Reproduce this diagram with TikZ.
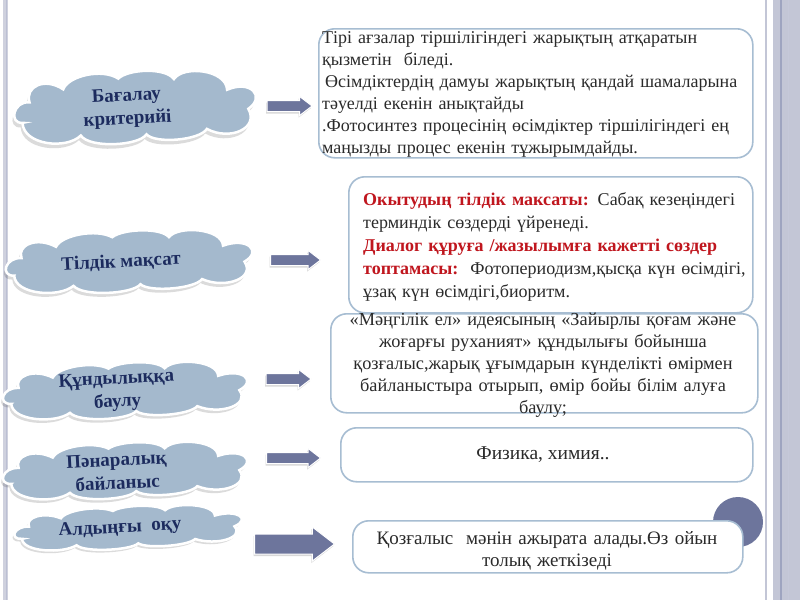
\documentclass[tikz,border=0pt]{standalone}
\usepackage{fontspec}
\setmainfont{Liberation Serif}
\usetikzlibrary{shapes.arrows,shadows}
\definecolor{cloudfill}{HTML}{A4B9CD}
\definecolor{cloudink}{HTML}{1C2B5E}
\definecolor{boxline}{HTML}{A7BDD2}
\definecolor{arrowfill}{HTML}{6D759C}
\definecolor{aimred}{HTML}{C0161E}
\definecolor{inkgray}{HTML}{2A2A2A}
\definecolor{bandgray}{HTML}{C3C6D6}
\definecolor{banddark}{HTML}{9EA4C0}
% outline of one cloud, about 240 wide and 60 high, centred on the origin
\newcommand{\cloudpath}{(-112,8)
  .. controls (-126,8) and (-120,-12) .. (-104,-10)
  .. controls (-108,-24) and (-88,-32) .. (-70,-20)
  .. controls (-64,-32) and (-30,-37) .. (-15,-27)
  .. controls (-5,-35) and (32,-35) .. (40,-24)
  .. controls (50,-36) and (92,-30) .. (92,-12)
  .. controls (116,-20) and (130,-4) .. (112,6)
  .. controls (122,24) and (92,34) .. (70,22)
  .. controls (62,32) and (18,33) .. (10,24)
  .. controls (2,34) and (-47,34) .. (-55,22)
  .. controls (-70,34) and (-112,28) .. cycle}
\newcommand{\cloudtag}[6]{%
  \begin{scope}[shift={(#2,#3)},rotate=3,xscale=#4,yscale=#5]
    \fill[black,opacity=0.14,shift={(-2,4)}] \cloudpath;
    \path[fill=cloudfill,draw=white,line width=2.5pt] \cloudpath;
  \end{scope}
  \node[taglabel] (#1) at (#2,#3) {#6};
}
\newcommand{\pointerat}[4]{\node[pointer,minimum height=#4] (#1) at (#2,#3) {};}

\begin{document}
\begin{tikzpicture}[x=1pt,y=-1pt,
  taglabel/.style={font=\fontsize{19}{23}\selectfont\bfseries,text=cloudink,
    align=center,rotate=3,xshift=-8pt},
  pointer/.style={single arrow,single arrow head extend=4pt,single arrow tip angle=75,
    inner xsep=0pt,inner ysep=5pt,fill=arrowfill,draw=white,line width=1pt,
    drop shadow={shadow xshift=-1pt,shadow yshift=-2pt,opacity=0.3}},
  panel/.style={draw=boxline,line width=1.6pt,rounded corners=16pt,fill=white,
    anchor=north west,inner sep=0pt},
  paneltext/.style={font=\fontsize{18}{22}\selectfont,text=inkgray,inner sep=0pt}]

\useasboundingbox (0,0) rectangle (800,600);
\fill[white] (0,0) rectangle (800,600);

%% ---------------- slide borders ----------------
\fill[bandgray!80] (3,0) rectangle (8,600);
\draw[banddark!70,line width=1pt] (6,0) -- (6,600);
\draw[bandgray,line width=2pt] (766,0) -- (766,600);
\fill[bandgray] (773,0) rectangle (800,600);
\draw[banddark,line width=2pt] (781,0) -- (781,600);
\draw[banddark!60,line width=1pt] (788,0) -- (788,600);

%% ---------------- clouds on the left ----------------
\cloudtag{crit}{135}{108}{1.01}{1.12}{Бағалау\\критерийі}
\cloudtag{lang}{129}{262}{1.03}{0.95}{Тілдік мақсат}
\cloudtag{value}{125}{391}{1.02}{0.86}{Құндылыққа\\баулу}
\cloudtag{inter}{125}{471}{1.02}{0.86}{Пәнаралық\\байланыс}
\cloudtag{prior}{128}{528}{0.95}{0.66}{Алдыңғы\ \ оқу}

%% ---------------- arrows ----------------
\pointerat{crit-arrow}{286}{106}{45pt}
\pointerat{lang-arrow}{292}{260}{50pt}
\pointerat{value-arrow}{285}{379}{45pt}
\pointerat{inter-arrow}{290}{458}{54pt}
\node[pointer,minimum height=80pt,inner ysep=9.5pt,single arrow head extend=7pt]
  (prior-arrow) at (288,544) {};

%% ---------------- boxes on the right ----------------
\node[panel,minimum width=434pt,minimum height=129pt] (crit-box) at (318,28) {};
\node[paneltext,anchor=north west,text width=430pt,align=left] (crit-text) at (322,31)
  {Тірі ағзалар тіршілігіндегі жарықтың атқаратын\\
   қызметін\ \ біледі.\\
   \hspace{3pt}Өсімдіктердің дамуы жарықтың қандай шамаларына\\
   тәуелді екенін анықтайды\\
   .Фотосинтез процесінің өсімдіктер тіршілігіндегі ең\\
   маңызды процес екенін тұжырымдайды.};

\node[panel,minimum width=404pt,minimum height=136pt] (lang-box) at (348,176) {};
\node[paneltext,anchor=north west,text width=385pt,align=left,
  font=\fontsize{18}{23}\selectfont] (lang-text) at (363,192)
  {{\color{aimred}\bfseries Окытудың тілдік максаты:} Сабақ кезеңіндегі\\
   терминдік сөздерді үйренеді.\\
   {\color{aimred}\bfseries Диалог құруға /жазылымға кажетті сөздер}\\
   {\color{aimred}\bfseries топтамасы:}\ \ Фотопериодизм,қысқа күн өсімдігі,\\
   ұзақ күн өсімдігі,биоритм.};

\node[panel,minimum width=427pt,minimum height=99pt] (value-box) at (330,313) {};
\node[paneltext,anchor=north,text width=425pt,align=center,
  font=\fontsize{18.3}{22}\selectfont] (value-text) at (543,313)
  {«Мәңгілік ел» идеясының «Зайырлы қоғам және\\
   жоғарғы руханият» құндылығы бойынша\\
   қозғалыс,жарық ұғымдарын күнделікті өмірмен\\
   байланыстыра отырып, өмір бойы білім алуға\\
   баулу;};

\node[panel,minimum width=412pt,minimum height=54pt] (inter-box) at (340,427) {};
\node[paneltext,font=\fontsize{19.5}{23}\selectfont] (inter-text) at (543,455) {Физика, химия..};

\node[circle,fill=arrowfill,minimum size=50pt,inner sep=0pt] (corner-dot) at (738,522) {};
\node[panel,minimum width=390pt,minimum height=52pt] (prior-box) at (352,520) {};
\node[paneltext,anchor=north,text width=388pt,align=center,
  font=\fontsize{19}{22}\selectfont] (prior-text) at (547,531)
  {Қозғалыс\ \ мәнін ажырата алады.Өз ойын\\
   толық жеткізеді};

\end{tikzpicture}
\end{document}
